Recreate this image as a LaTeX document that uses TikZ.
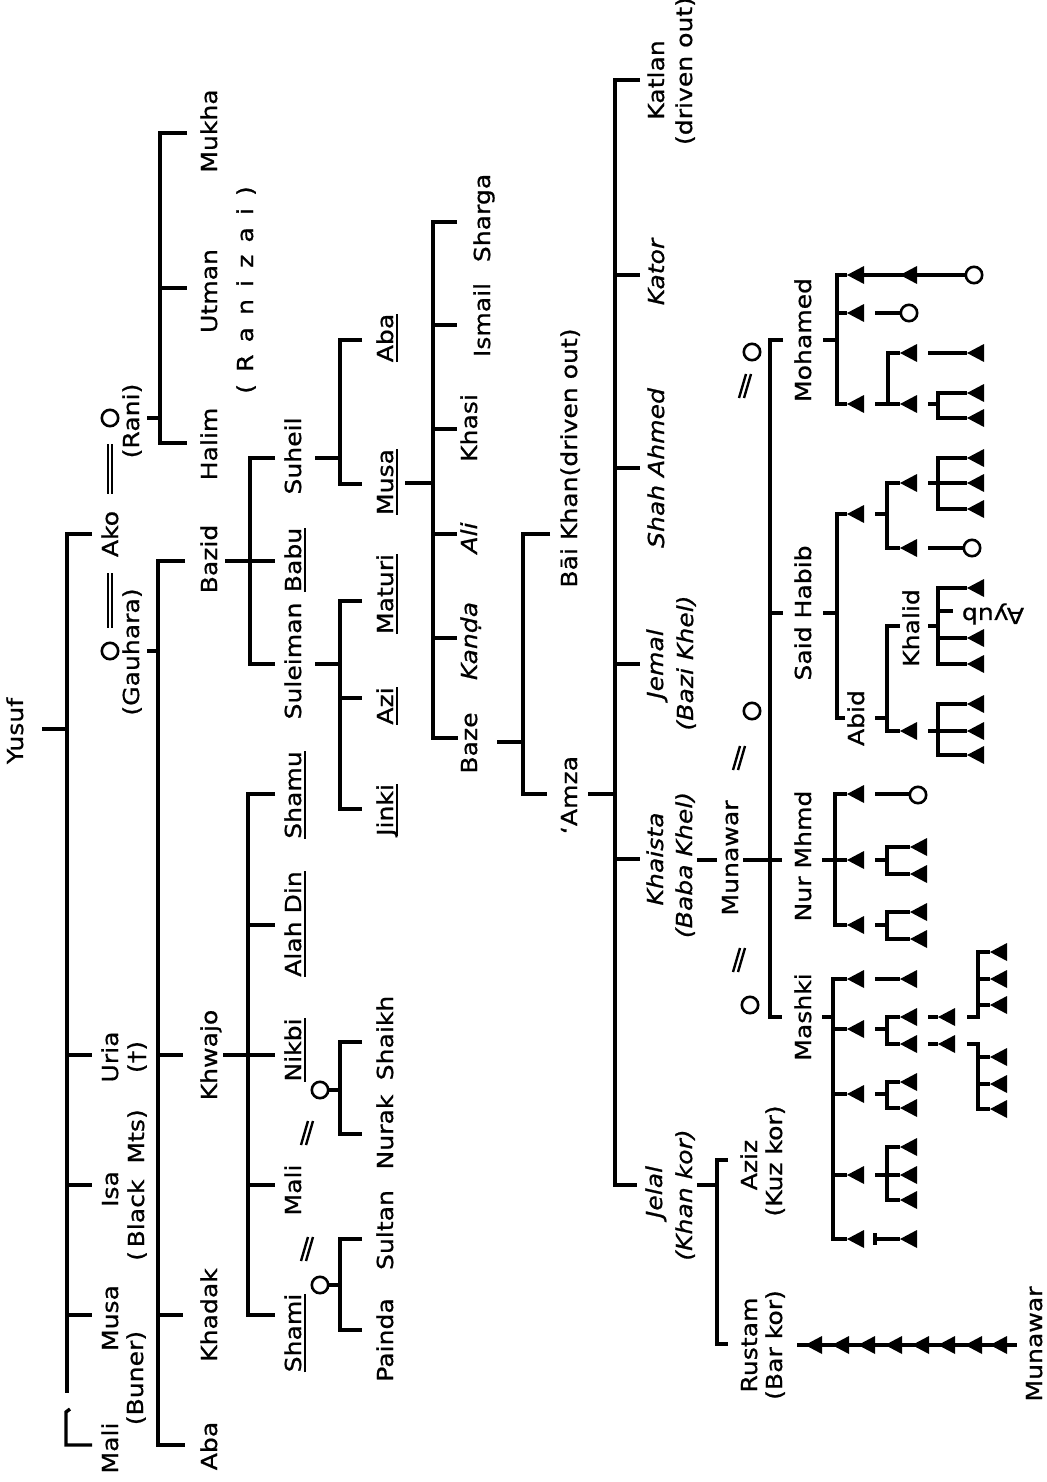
\documentclass[tikz,border=0pt]{standalone}
\usepackage{fontspec}
\setmainfont{DejaVu Sans}[FakeStretch=1.14, FakeBold=0.8]
\newcommand\lblfont{\fontsize{11pt}{13pt}\selectfont}
\newcommand\myul[1]{\setbox0=\hbox{#1}\rlap{\rule[-2.7pt]{\wd0}{1.1pt}}\box0}
\newcommand\gp{\hskip0.55em}
\newcommand\tri[2]{\fill (#1,#2) -- ++(17,-9) -- ++(0,18) -- cycle;}
\newcommand\fem[2]{\draw[line width=1.3pt, fill=white] (#1,#2) circle[radius=4.1pt];}
\newcommand\marr[2]{\draw[line width=1.2pt] ({#1-6},{#2+12}) -- ({#1+1},{#2-12}) ({#1-1},{#2+12}) -- ({#1+6},{#2-12});}
\tikzset{
  ln/.style={line width=1.7pt},
  dbl/.style={line width=1.2pt},
  lab/.style={rotate=90, anchor=base, inner sep=0pt, font=\lblfont},
  ilab/.style={rotate=90, anchor=base, inner sep=0pt, font=\lblfont\itshape},
}
\begin{document}
\begin{tikzpicture}[x=0.5pt,y=-0.5pt]
\useasboundingbox (0,0) rectangle (1047,1482);
\fill[white] (0,0) rectangle (1047,1482);

% ---------- labels ----------
\node[lab] (yusuf) at (23,731) {Yusuf};
\node[lab] (ako) at (118,534) {Ako};
\node[lab] (uria) at (118,1057) {Uria};
\node[lab] (isa) at (118,1189) {Isa};
\node[lab] (musaA) at (118,1318) {Musa};
\node[lab] (maliA) at (118,1448) {Mali};
\node[lab] (rani) at (139,421) {(Rani)};
\node[lab] (gauhara) at (139,652) {(Gauhara)};
\node[lab] (dagger) at (144,1057) {(†)};
\node[lab] (blackmts) at (144,1185) {(\,Black\ \ Mts)};
\node[lab] (buner) at (143,1378) {(Buner)};

\node[lab] (mukha) at (217,131) {Mukha};
\node[lab] (utman) at (217,291) {Utman};
\node[lab] (halim) at (217,444) {Halim};
\node[lab] (bazid) at (217,559) {Bazid};
\node[lab] (khwajo) at (217,1055) {Khwajo};
\node[lab] (khadak) at (217,1315) {Khadak};
\node[lab] (abaB) at (217,1446) {Aba};
\node[lab] (ranizai) at (253,290) {(\gp R\gp a\gp n\gp i\gp z\gp a\gp i\gp )};

\node[lab] (suheil) at (301,456) {Suheil};
\node[lab] (babu) at (301,560) {\myul{Babu}};
\node[lab] (suleiman) at (301,661) {Suleiman};
\node[lab] (shamu) at (301,795) {\myul{Shamu}};
\node[lab] (alahdin) at (301,924) {\myul{Alah Din}};
\node[lab] (nikbi) at (301,1050) {\myul{Nikbi}};
\node[lab] (maliC) at (301,1190) {Mali};
\node[lab] (shami) at (301,1333) {\myul{Shami}};

\node[lab] (abaD) at (393,338) {\myul{Aba}};
\node[lab] (musaD) at (393,482) {\myul{Musa}};
\node[lab] (maturi) at (393,594) {\myul{Maturi}};
\node[lab] (azi) at (393,706) {\myul{Azi}};
\node[lab] (jinki) at (393,810) {\myul{Jinki}};
\node[lab] (shaikh) at (393,1038) {Shaikh};
\node[lab] (nurak) at (393,1132) {Nurak};
\node[lab] (sultan) at (393,1230) {Sultan};
\node[lab] (painda) at (393,1340) {Painda};

\node[lab] (sharga) at (490,218) {Sharga};
\node[lab] (ismail) at (490,320) {Ismail};
\node[lab] (khasi) at (477,428) {Khasi};
\node[ilab] (ali) at (477,538) {Ali};
\node[ilab] (kanda) at (477,641) {Kanḍa};
\node[lab] (baze) at (477,743) {Baze};

\node[lab] (baikhan) at (577,458) {Bāi Khan(driven out)};
\node[lab] (amza) at (577,795) {‘Amza};

\node[lab] (katlan) at (664,80) {Katlan};
\node[lab] (drivenout) at (692,71) {(driven out)};
\node[ilab] (kator) at (664,272) {Kator};
\node[ilab] (shahahmed) at (664,468) {Shah Ahmed};
\node[ilab] (jemal) at (663,664) {Jemal};
\node[ilab] (bazikhel) at (693,663) {(Bazi Khel)};
\node[ilab] (khaista) at (663,859) {Khaista};
\node[ilab] (babakhel) at (692,865) {(Baba Khel)};
\node[ilab] (jelal) at (662,1192) {Jelal};
\node[ilab] (khankor) at (692,1195) {(Khan kor)};

\node[lab] (munawarA) at (738,858) {Munawar};
\node[lab] (aziz) at (757,1165) {Aziz};
\node[lab] (kuzkor) at (782,1161) {(Kuz kor)};
\node[lab] (rustam) at (757,1345) {Rustam};
\node[lab] (barkor) at (782,1345) {(Bar kor)};

\node[lab] (mohamed) at (811,340) {Mohamed};
\node[lab] (saidhabib) at (811,613) {Said Habib};
\node[lab] (nurmhmd) at (811,856) {Nur Mhmd};
\node[lab] (mashki) at (811,1017) {Mashki};
\node[lab] (abid) at (864,718) {Abid};
\node[lab] (khalid) at (919,628) {Khalid};
\node[rotate=180, inner sep=0pt, font=\lblfont] (ayub) at (993,614) {Ayub};
\node[lab] (munawarB) at (1042,1344) {Munawar};

% ---------- Yusuf ----------
\draw[ln] (42,729) -- (67,729);
\draw[ln] (92,534) -- (67,534) -- (67,1393);
\draw[ln] (67,1055) -- (92,1055) (67,1185) -- (92,1185) (67,1315) -- (92,1315);
\draw[ln] (70,1409) -- (66,1412) -- (66,1445) -- (92,1445);

% ---------- Ako and wives ----------
\draw[dbl] (108,444) -- (108,494) (112,444) -- (112,494) (108,573) -- (108,628) (112,573) -- (112,628);
\fem{110}{418} \fem{110}{651}
\draw[ln] (147,418) -- (160,418);
\draw[ln] (187,133) -- (160,133) -- (160,443) -- (187,443) (160,288) -- (187,288);
\draw[ln] (147,651) -- (158,651);
\draw[ln] (185,561) -- (158,561) -- (158,1445) -- (185,1445) (158,1055) -- (183,1055) (158,1315) -- (183,1315);

% ---------- Bazid ----------
\draw[ln] (225,561) -- (275,561);
\draw[ln] (275,458) -- (250,458) -- (250,664) -- (275,664);
\draw[ln] (315,458) -- (340,458);
\draw[ln] (362,340) -- (340,340) -- (340,484) -- (362,484);
\draw[ln] (315,664) -- (340,664);
\draw[ln] (362,601) -- (340,601) -- (340,809) -- (362,809) (340,698) -- (362,698);

% ---------- Khwajo ----------
\draw[ln] (223,1055) -- (275,1055);
\draw[ln] (275,794) -- (248,794) -- (248,1315) -- (275,1315) (248,925) -- (275,925) (248,1185) -- (275,1185);
\marr{307}{1133} \marr{307}{1249}
\fem{320}{1090} \fem{320}{1285}
\draw[ln] (328,1090) -- (340,1090);
\draw[ln] (362,1042) -- (340,1042) -- (340,1134) -- (362,1134);
\draw[ln] (328,1285) -- (340,1285);
\draw[ln] (362,1239) -- (340,1239) -- (340,1330) -- (362,1330);

% ---------- Musa's sons ----------
\draw[ln] (405,483) -- (433,483);
\draw[ln] (457,222) -- (433,222) -- (433,738) -- (458,738) (433,325) -- (457,325) (433,429) -- (457,429) (433,534) -- (457,534) (433,638) -- (457,638);
\draw[ln] (497,742) -- (523,742);
\draw[ln] (550,534) -- (523,534) -- (523,794) -- (547,794);
\draw[ln] (588,794) -- (615,794);
\draw[ln] (640,80) -- (615,80) -- (615,1185) -- (637,1185) (615,275) -- (640,275) (615,468) -- (640,468) (615,664) -- (640,664) (615,859) -- (640,859);

% ---------- Khaista / Jelal ----------
\draw[ln] (697,860) -- (717,860);
\draw[ln] (697,1185) -- (717,1185);
\draw[ln] (728,1160) -- (717,1160) -- (717,1344) -- (728,1344);
\draw[ln] (797,1345) -- (1017,1345);
\foreach \t in {805,832,858,885,912,938,965,990} {\tri{\t}{1345}}

% ---------- Munawar ----------
\draw[ln] (743,860) -- (782,860);
\draw[ln] (783,340) -- (770,340) -- (770,1017) -- (782,1017) (770,613) -- (783,613);
\fem{752}{352} \fem{752}{711} \fem{750}{1005}
\marr{745}{386} \marr{739}{758} \marr{739}{960}

% Mohamed
\draw[ln] (823,340) -- (837,340);
\draw[ln] (847,275) -- (837,275) -- (837,404) -- (847,404) (837,313) -- (847,313);
\tri{847}{275} \tri{847}{313} \tri{847}{404}
\draw[ln] (862,275) -- (967,275);
\tri{900}{275}
\fem{974}{275}
\draw[ln] (875,313) -- (901,313);
\fem{909}{313}
\draw[ln] (875,404) -- (888,404);
\draw[ln] (900,353) -- (888,353) -- (888,404) -- (900,404);
\tri{900}{353} \tri{900}{404}
\draw[ln] (928,353) -- (967,353);
\tri{967}{353}
\draw[ln] (928,404) -- (938,404);
\draw[ln] (967,393) -- (938,393) -- (938,418) -- (967,418);
\tri{967}{393} \tri{967}{418}

% Said Habib
\draw[ln] (823,613) -- (837,613);
\draw[ln] (847,514) -- (837,514) -- (837,718) -- (845,718);
\tri{847}{514}
\draw[ln] (875,514) -- (887,514);
\draw[ln] (900,483) -- (887,483) -- (887,548) -- (900,548);
\tri{900}{483} \tri{900}{548}
\draw[ln] (928,483) -- (967,483);
\draw[ln] (967,458) -- (938,458) -- (938,509) -- (967,509);
\tri{967}{458} \tri{967}{483} \tri{967}{509}
\draw[ln] (928,548) -- (964,548);
\fem{972}{548}
\draw[ln] (875,718) -- (887,718);
\draw[ln] (900,626) -- (887,626) -- (887,731) -- (900,731);
\tri{900}{731}
\draw[ln] (928,626) -- (938,626);
\draw[ln] (967,588) -- (938,588) -- (938,664) -- (967,664) (938,638) -- (967,638) (938,611) -- (953,611);
\tri{967}{588} \tri{967}{638} \tri{967}{664}
\draw[ln] (928,731) -- (967,731);
\draw[ln] (967,704) -- (938,704) -- (938,755) -- (967,755);
\tri{967}{704} \tri{967}{731} \tri{967}{755}

% Nur Mhmd
\draw[ln] (822,860) -- (847,860);
\draw[ln] (847,794) -- (835,794) -- (835,925) -- (847,925);
\tri{847}{794} \tri{847}{860} \tri{847}{925}
\draw[ln] (875,794) -- (910,794);
\fem{918}{795}
\draw[ln] (875,860) -- (887,860);
\draw[ln] (910,847) -- (887,847) -- (887,874) -- (910,874);
\tri{910}{847} \tri{910}{874}
\draw[ln] (875,925) -- (887,925);
\draw[ln] (910,912) -- (887,912) -- (887,939) -- (910,939);
\tri{910}{912} \tri{910}{939}

% Mashki
\draw[ln] (822,1017) -- (833,1017);
\draw[ln] (847,979) -- (833,979) -- (833,1239) -- (847,1239) (833,1029) -- (847,1029) (833,1094) -- (847,1094) (833,1175) -- (847,1175);
\tri{847}{979} \tri{847}{1029} \tri{847}{1094} \tri{847}{1175} \tri{847}{1239}
\draw[ln] (875,979) -- (900,979);
\tri{900}{979}
\draw[ln] (875,1029) -- (887,1029);
\draw[ln] (900,1017) -- (887,1017) -- (887,1044) -- (900,1044);
\tri{900}{1017} \tri{900}{1044}
\draw[ln] (928,1017) -- (938,1017) (928,1044) -- (938,1044);
\tri{938}{1017} \tri{938}{1044}
\draw[ln] (967,1017) -- (978,1017) -- (978,952) -- (990,952) (978,979) -- (990,979) (978,1005) -- (990,1005);
\tri{990}{952} \tri{990}{979} \tri{990}{1005}
\draw[ln] (967,1044) -- (978,1044) -- (978,1109) -- (990,1109) (978,1057) -- (990,1057) (978,1084) -- (990,1084);
\tri{990}{1057} \tri{990}{1084} \tri{990}{1109}
\draw[ln] (875,1094) -- (887,1094);
\draw[ln] (900,1082) -- (887,1082) -- (887,1108) -- (900,1108);
\tri{900}{1082} \tri{900}{1108}
\draw[ln] (875,1175) -- (900,1175);
\draw[ln] (900,1147) -- (887,1147) -- (887,1200) -- (900,1200);
\tri{900}{1147} \tri{900}{1175} \tri{900}{1200}
\draw[ln] (875,1239) -- (900,1239) (875,1233) -- (875,1245);
\tri{900}{1239}
\end{tikzpicture}
\end{document}
